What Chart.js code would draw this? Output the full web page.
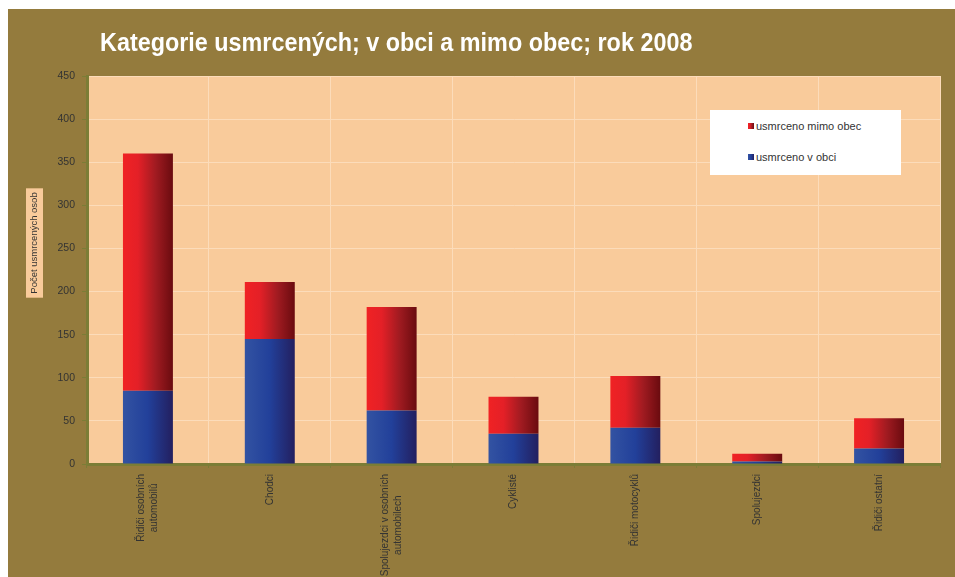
<!DOCTYPE html>
<html><head><meta charset="utf-8">
<script src="https://cdn.jsdelivr.net/npm/chart.js@4.4.1/dist/chart.umd.min.js"></script>
<style>
html,body{margin:0;padding:0;background:#fff;width:955px;height:577px;overflow:hidden;}
#wrap{position:absolute;left:8px;top:9px;width:947px;height:568px;background:#947b3d;}
#title{position:absolute;left:92px;top:19px;font-family:'Liberation Sans Narrow','Liberation Sans',sans-serif;font-weight:bold;font-size:25px;color:#fff;white-space:nowrap;transform:scaleX(0.935);transform-origin:0 0;}
#legend{position:absolute;left:702px;top:101px;width:191px;height:65px;background:#fff;font-family:'Liberation Sans',Arial,sans-serif;font-size:11px;color:#333;}
.li{position:absolute;left:38px;height:14px;line-height:14px;white-space:nowrap;}
.sw{display:inline-block;width:6px;height:6px;margin-right:2px;vertical-align:1px;}
canvas{position:absolute;left:0;top:0;}
</style></head>
<body>
<div id="wrap">
<canvas id="c" width="947" height="568"></canvas>
<div id="title">Kategorie usmrcených; v obci a mimo obec; rok 2008</div>
<div id="legend"></div>
</div>
<script>
const chartTitle = "Kategorie usmrcených; v obci a mimo obec; rok 2008";
const yAxisTitle = "Počet usmrcených osob";
const categories = [["Řidiči osobních","automobilů"],"Chodci",["Spolujezdci v osobních","automobilech"],"Cyklisté","Řidiči motocyklů","Spolujezdci","Řidiči ostatní"];
const seriesNames = ["usmrceno v obci","usmrceno mimo obec"];
const killedInTown = [85, 145, 62, 35, 42, 3, 18];
const killedOutside = [275, 66, 120, 43, 60, 9, 35];
const yMin = 0, yMax = 450, yStep = 50;

const blueStops = [[0,'#3353a2'],[0.5,'#22409a'],[1,'#231f5f']];
const redStops = [[0,'#f02224'],[0.3,'#e42027'],[0.65,'#a11b21'],[1,'#6a0b0f']];
const CAT_PCT = 0.41;

function gradFill(stops){
  return (ctx)=>{
    const ch = ctx.chart, xs = ch.scales && ch.scales.x;
    if(!xs || ctx.dataIndex == null || !xs.width) return stops[0][1];
    const w = xs.width / ch.data.labels.length * CAT_PCT;
    const cx = xs.getPixelForValue(ctx.dataIndex);
    const g = ch.ctx.createLinearGradient(cx - w/2, 0, cx + w/2, 0);
    stops.forEach(s=>g.addColorStop(s[0], s[1]));
    return g;
  };
}

const bgPlugin = {
  id:'bg',
  beforeDraw(ch){
    const a = ch.chartArea, c = ch.ctx;
    c.save(); c.fillStyle = '#f9cb9b'; c.fillRect(a.left, a.top, a.right-a.left, a.bottom-a.top); c.restore();
  }
};

const labelPlugin = {
  id:'labels',
  afterDraw(ch){
    const c = ch.ctx, xs = ch.scales.x, a = ch.chartArea;
    c.save();
    c.font = '9.5px "Liberation Sans", Arial, sans-serif';
    const tw = c.measureText(yAxisTitle).width;
    const bx = 26.5, by = 234;
    c.fillStyle = '#f9cb9b';
    c.fillRect(bx - 8.5, by - tw/2 - 4, 17, tw + 8);
    c.translate(bx, by); c.rotate(-Math.PI/2);
    c.fillStyle = '#333'; c.textAlign = 'center'; c.textBaseline = 'middle';
    c.fillText(yAxisTitle, 0, 0);
    c.restore();
    c.save();
    c.font = '10px "Liberation Sans", Arial, sans-serif';
    c.fillStyle = '#333'; c.textAlign = 'center'; c.textBaseline = 'middle';
    const lh = 13;
    ch.data.labels.forEach((lab, i)=>{
      const lines = Array.isArray(lab) ? lab : [lab];
      const W = Math.max(...lines.map(l=>c.measureText(l).width));
      const cx = xs.getPixelForValue(i);
      c.save();
      c.translate(cx, a.bottom + 10);
      c.rotate(-Math.PI/2);
      lines.forEach((l, k)=>{
        const off = (k - (lines.length-1)/2) * lh;
        c.fillText(l, -W/2, off);
      });
      c.restore();
    });
    c.restore();
  }
};

const chart = new Chart(document.getElementById('c'), {
  type:'bar',
  data:{
    labels: categories,
    datasets:[
      {label: seriesNames[0], data: killedInTown, backgroundColor: gradFill(blueStops), borderWidth:0, categoryPercentage: CAT_PCT, barPercentage:1},
      {label: seriesNames[1], data: killedOutside, backgroundColor: gradFill(redStops), borderWidth:0, categoryPercentage: CAT_PCT, barPercentage:1}
    ]
  },
  options:{
    responsive:false, animation:false, events:[],
    layout:{padding:{left:0,right:15,top:67,bottom:0}},
    plugins:{legend:{display:false}, title:{display:false}, tooltip:{enabled:false}},
    scales:{
      x:{stacked:true,
         ticks:{display:false},
         grid:{color:'#fcdcba', lineWidth:1, offset:true, tickLength:4, tickColor:'#7b7d36'},
         border:{color:'#7b7d36', width:3},
         afterFit(s){ s.height = 113; }},
      y:{stacked:true, min:yMin, max:yMax,
         ticks:{stepSize:yStep, color:'#333', padding:7, font:{size:10.5, family:'"Liberation Sans", Arial, sans-serif'}},
         grid:{color:'#fcdcba', lineWidth:1, tickLength:5, tickColor:'#7b7d36'},
         border:{color:'#7b7d36', width:3},
         afterFit(s){ s.width = 79; }}
    }
  },
  plugins:[bgPlugin, labelPlugin]
});

const leg = document.getElementById('legend');
const legendStops = [blueStops, redStops];
const tops = [8.5, 39.5];
chart.data.datasets.map((d,i)=>({d,i})).reverse().forEach((o,k)=>{
  const st = legendStops[o.i];
  const el = document.createElement('div');
  el.className = 'li'; el.style.top = tops[k] + 'px';
  el.innerHTML = '<span class="sw" style="background:linear-gradient(to right,' + st.map(s=>s[1]+' '+(s[0]*100)+'%').join(',') + ')"></span>' + o.d.label;
  leg.appendChild(el);
});
</script>
</body></html>
